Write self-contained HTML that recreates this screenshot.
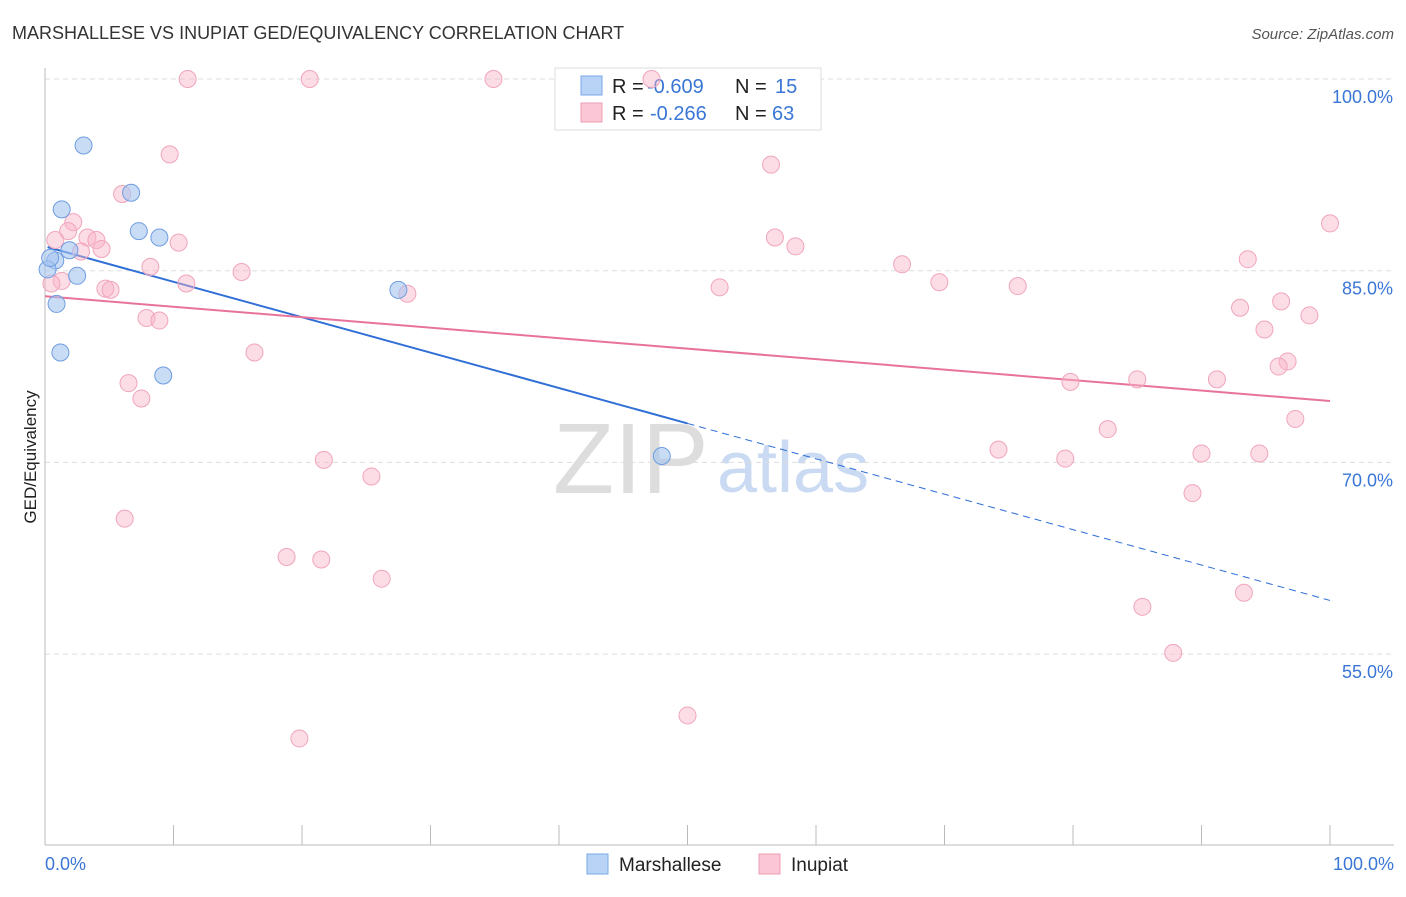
<!DOCTYPE html>
<html><head><meta charset="utf-8"><style>
body{margin:0;background:#fff;font-family:"Liberation Sans",sans-serif;}
svg text{font-family:"Liberation Sans",sans-serif;}
</style></head><body>
<svg id="chart" width="1406" height="892" xmlns="http://www.w3.org/2000/svg">
<text x="12" y="39" font-size="18" fill="#333">MARSHALLESE VS INUPIAT GED/EQUIVALENCY CORRELATION CHART</text>
<text x="1394" y="39" font-size="15" fill="#555" text-anchor="end" font-style="italic">Source: ZipAtlas.com</text>
<text x="36" y="457" font-size="17" fill="#222" text-anchor="middle" transform="rotate(-90 36 457)">GED/Equivalency</text>
<g>
<text x="553" y="493" font-size="100" fill="#ddd" font-family="Liberation Serif">ZIP</text>
<text x="717" y="492" font-size="72" fill="#c9daf2">atlas</text>
</g>
<g id="grid"></g><g id="axes"></g><g id="lines"></g>
<g>
<rect x="555" y="68" width="266" height="62" fill="#fff" stroke="#ddd"/>
<rect x="581" y="76" width="21" height="19" fill="#b9d3f6" stroke="#7aa7e8"/>
<text x="612" y="93" font-size="20" fill="#222">R =</text>
<text x="647" y="93" font-size="20" fill="#3a76d6">-0.609</text>
<text x="735" y="93" font-size="20" fill="#222">N =</text>
<text x="775" y="93" font-size="20" fill="#3a76d6">15</text>
<rect x="581" y="103" width="21" height="19" fill="#fbc7d6" stroke="#ee9db4"/>
<text x="612" y="120" font-size="20" fill="#222">R =</text>
<text x="650" y="120" font-size="20" fill="#3a76d6">-0.266</text>
<text x="735" y="120" font-size="20" fill="#222">N =</text>
<text x="772" y="120" font-size="20" fill="#3a76d6">63</text>
</g>
<g id="points"></g>
<g>
<rect x="587" y="854" width="21" height="20" fill="#b9d3f6" stroke="#7aa7e8"/>
<text x="619" y="871" font-size="19" fill="#222">Marshallese</text>
<rect x="759" y="854" width="21" height="20" fill="#fbc7d6" stroke="#ee9db4"/>
<text x="791" y="871" font-size="19" fill="#222">Inupiat</text>
</g>
<text x="45" y="870" font-size="18" fill="#3a76d6">0.0%</text>
<text x="1394" y="870" font-size="18" fill="#3a76d6" text-anchor="end">100.0%</text>
</svg>
<script>
const yTicks=[100,85,70,55];
const yTickLabels=["100.0%","85.0%","70.0%","55.0%"];
const xTicks=[10,20,30,40,50,60,70,80,90,100];
const blueX=[3.0,6.7,1.3,7.3,8.9,1.9,0.8,0.2,2.5,0.9,1.2,9.2,27.5,48.0,0.4];
const blueY=[94.8,91.1,89.8,88.1,87.6,86.6,85.8,85.1,84.6,82.4,78.6,76.8,83.5,70.5,86.0];
const pinkX=[11.1,20.6,34.9,47.2,9.7,56.5,6.0,2.2,0.8,1.8,3.3,4.0,4.4,2.8,10.4,8.2,15.3,1.3,0.5,4.7,5.1,11.0,7.9,8.9,16.3,6.5,7.5,28.2,56.8,58.4,52.5,66.7,69.6,75.7,100,93.6,96.2,93.0,94.9,98.4,96.7,96.0,79.8,85.0,91.2,82.7,97.3,74.2,79.4,90.0,94.5,89.3,21.7,25.4,6.2,18.8,21.5,26.2,85.4,93.3,87.8,50.0,19.8];
const pinkY=[100,100,100,100,94.1,93.3,91.0,88.8,87.4,88.1,87.6,87.4,86.7,86.5,87.2,85.3,84.9,84.2,84.0,83.6,83.5,84.0,81.3,81.1,78.6,76.2,75.0,83.2,87.6,86.9,83.7,85.5,84.1,83.8,88.7,85.9,82.6,82.1,80.4,81.5,77.9,77.5,76.3,76.5,76.5,72.6,73.4,71.0,70.3,70.7,70.7,67.6,70.2,68.9,65.6,62.6,62.4,60.9,58.7,59.8,55.1,50.2,48.4];
const blueTrend=[86.9,59.2];
const pinkTrend=[83.0,74.8];
const blueSolidEnd=50;

const NS="http://www.w3.org/2000/svg";
const X=v=>45+v*12.85;
const Y=v=>79+(100-v)*191.7/15;
function mk(tag,attrs,parent){const e=document.createElementNS(NS,tag);for(const k in attrs)e.setAttribute(k,attrs[k]);document.getElementById(parent).appendChild(e);return e;}
yTicks.forEach((t,i)=>{
  const l=mk('line',{x1:45,x2:1394,y1:Y(t),y2:Y(t),stroke:'#ddd','stroke-dasharray':'5,4'},'grid');
  
  
  const tx=mk('text',{x:1393,y:Y(t)+24,'font-size':18,fill:'#3a76d6','text-anchor':'end'},'grid');
  tx.textContent=yTickLabels[i];
  
  
});
let a=mk('line',{x1:45,x2:45,y1:68,y2:845,stroke:'#bbb'},'axes');


a=mk('line',{x1:45,x2:1394,y1:845,y2:845,stroke:'#bbb'},'axes');


xTicks.forEach(t=>{
  const l=mk('line',{x1:X(t),x2:X(t),y1:825,y2:845,stroke:'#bbb'},'axes');
  
  
});
const ty=(tr,x)=>tr[0]+(tr[1]-tr[0])*x/100;
let ln=mk('line',{x1:X(0.2),y1:Y(ty(blueTrend,0.2)),x2:X(blueSolidEnd),y2:Y(ty(blueTrend,blueSolidEnd)),stroke:'#2f6fd6','stroke-width':2},'lines');


ln=mk('line',{x1:X(blueSolidEnd),y1:Y(ty(blueTrend,blueSolidEnd)),x2:X(100),y2:Y(ty(blueTrend,100)),stroke:'#2f6fd6','stroke-width':1,'stroke-dasharray':'7,5'},'lines');


ln=mk('line',{x1:X(0),y1:Y(pinkTrend[0]),x2:X(100),y2:Y(pinkTrend[1]),stroke:'#e8739a','stroke-width':2},'lines');


pinkX.forEach((x,i)=>{
  const c=mk('circle',{cx:X(x),cy:Y(pinkY[i]),r:8.5,fill:'rgba(248,180,200,0.45)',stroke:'#f0a5bb','stroke-width':1},'points');
  
  
});
blueX.forEach((x,i)=>{
  const c=mk('circle',{cx:X(x),cy:Y(blueY[i]),r:8.5,fill:'rgba(165,196,240,0.6)',stroke:'#6f9de0','stroke-width':1},'points');
  
  
});
</script>
</body></html>
